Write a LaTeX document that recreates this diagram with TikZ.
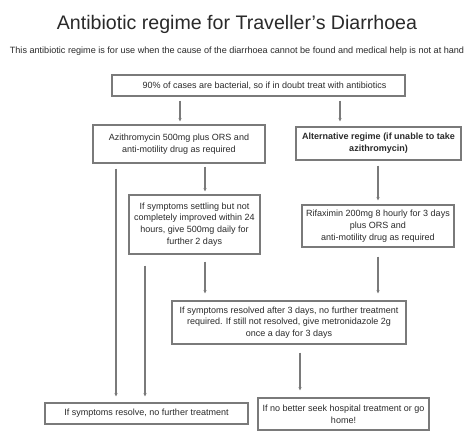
\documentclass[tikz,border=0pt]{standalone}
\usepackage{fontspec}
\setmainfont{Liberation Sans}
\usetikzlibrary{arrows.meta}
\definecolor{lineg}{HTML}{7A7A7A}
\definecolor{txt}{HTML}{2A2A2A}
\begin{document}
\begin{tikzpicture}[x=1pt,y=-1pt,
  box/.style={draw=lineg, line width=1.1pt, align=center, inner sep=1pt, text=txt,
    font=\fontsize{9}{11.7}\selectfont},
  arr/.style={draw=lineg, line width=1.1pt, -{Stealth[length=3.5pt,width=3.2pt]}}]
\useasboundingbox (0,0) rectangle (474,445);
\fill[white] (0,0) rectangle (474,445);
\node[text=txt, font=\fontsize{19.6}{24}\selectfont] (title) at (237,24) {Antibiotic regime for Traveller’s Diarrhoea};
\node[text=txt, font=\fontsize{9.1}{10}\selectfont] (sub) at (237,51) {This antibiotic regime is for use when the cause of the diarrhoea cannot be found and medical help is not at hand};
\node[box, minimum width=293pt, minimum height=21pt] (b1) at (258.5,85.5) {\hspace{12pt}90\% of cases are bacterial, so if in doubt treat with antibiotics};
\node[box, minimum width=172pt, minimum height=38pt] (azi) at (179,144) {Azithromycin 500mg plus ORS and\\anti-motility drug as required};
\node[box, minimum width=165pt, minimum height=33pt, font=\fontsize{9}{11.7}\selectfont\bfseries] (alt) at (378.5,143.5) {Alternative regime (if unable to take\\azithromycin)};
\node[box, minimum width=131pt, minimum height=59pt] (settle) at (194.5,224.5) {If symptoms settling but not\\completely improved within 24\\hours, give 500mg daily for\\further 2 days};
\node[box, minimum width=152pt, minimum height=42pt] (rif) at (378,226) {Rifaximin 200mg 8 hourly for 3 days\\plus ORS and\\anti-motility drug as required};
\node[box, minimum width=234pt, minimum height=43pt] (met) at (289,322.5) {If symptoms resolved after 3 days, no further treatment\\required. If still not resolved, give metronidazole 2g\\once a day for 3 days};
\node[box, minimum width=203pt, minimum height=21pt] (resl) at (146.5,413.5) {If symptoms resolve, no further treatment};
\node[box, minimum width=171pt, minimum height=32pt] (hosp) at (343.5,414) {If no better seek hospital treatment or go\\home!};
\coordinate (xa) at (180,0);
\coordinate (xb) at (340,0);
\coordinate (xc) at (205,0);
\coordinate (xd) at (116,0);
\coordinate (xe) at (145,0);
\coordinate (xf) at (378,0);
\coordinate (xg) at (300,0);
\draw[arr, shorten <=4pt, shorten >=3pt] (b1.south -| xa) -- (azi.north -| xa);
\draw[arr, shorten <=4pt, shorten >=5pt] (b1.south -| xb) -- (alt.north -| xb);
\draw[arr, shorten <=3pt, shorten >=3pt] (azi.south -| xc) -- (settle.north -| xc);
\draw[arr, shorten <=5pt, shorten >=6pt] (azi.south -| xd) -- (resl.north -| xd);
\draw[arr, shorten <=11pt, shorten >=6pt] (settle.south -| xe) -- (resl.north -| xe);
\draw[arr, shorten <=7pt, shorten >=7pt] (settle.south -| xc) -- (met.north -| xc);
\draw[arr, shorten <=5pt, shorten >=4pt] (alt.south -| xf) -- (rif.north -| xf);
\draw[arr, shorten <=9pt, shorten >=7pt] (rif.south -| xf) -- (met.north -| xf);
\draw[arr, shorten <=8pt, shorten >=7pt] (met.south -| xg) -- (hosp.north -| xg);
\end{tikzpicture}
\end{document}
